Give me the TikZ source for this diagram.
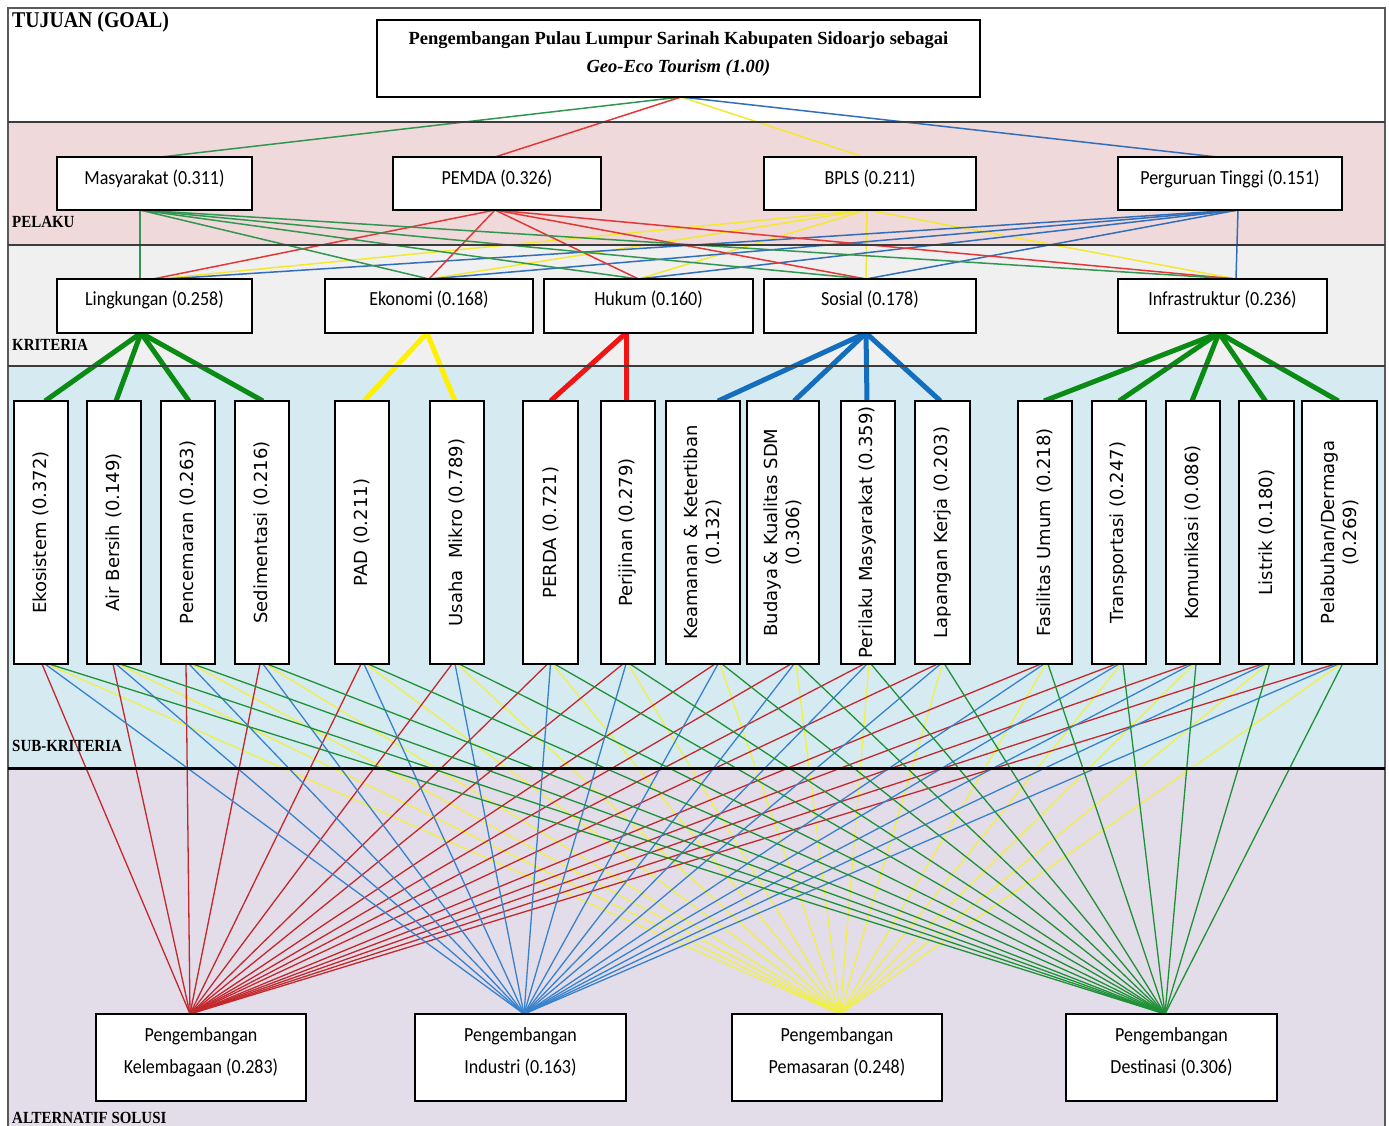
\documentclass[tikz,border=0pt]{standalone}
\usepackage{fontspec}
\usepackage{graphicx}
\setmainfont{Liberation Serif}
\newfontfamily\calib{Carlito}
\newfontfamily\dejav{DejaVu Sans}

\definecolor{bpink}{RGB}{239,217,218}
\definecolor{bgray}{RGB}{241,240,240}
\definecolor{bblue}{RGB}{214,234,241}
\definecolor{blav}{RGB}{227,220,233}
\definecolor{sepgray}{RGB}{60,60,60}
\definecolor{framegray}{RGB}{90,90,90}
\definecolor{ugreen}{RGB}{50,150,80}
\definecolor{ured}{RGB}{228,55,55}
\definecolor{uyellow}{RGB}{242,232,50}
\definecolor{ublue}{RGB}{50,110,185}
\definecolor{tgreen}{RGB}{10,140,20}
\definecolor{tyellow}{RGB}{255,240,0}
\definecolor{tred}{RGB}{240,20,20}
\definecolor{tblue}{RGB}{20,110,190}
\definecolor{lred}{RGB}{195,40,45}
\definecolor{lblue}{RGB}{55,130,205}
\definecolor{lyellow}{RGB}{240,240,70}
\definecolor{lgreen}{RGB}{30,145,55}

\newcommand\sqz[1]{\scalebox{0.9}[1]{#1}}

\pgfdeclarelayer{bands}
\pgfdeclarelayer{lines}
\pgfsetlayers{bands,lines,main}

\tikzset{
  bx/.style={draw=black, line width=2.5pt, fill=white, inner sep=0pt, outer sep=0pt},
  ptext/.style={font=\calib\fontsize{20}{23}\selectfont, inner sep=0pt},
  atext/.style={font=\calib\fontsize{20}{32}\selectfont, inner sep=0pt},
  stext/.style={font=\dejav\fontsize{18}{22}\selectfont, rotate=90, align=center, inner sep=0pt},
  lbl/.style={font=\bfseries\fontsize{17}{20}\selectfont, anchor=base west, inner sep=0pt},
  thinup/.style={line width=1.5pt},
  thickln/.style={line width=5pt},
  thinlow/.style={line width=1.3pt},
  sepl/.style={draw=sepgray, line width=1.6pt},
}

\begin{document}
\begin{tikzpicture}[x=1pt,y=-1pt]
\useasboundingbox (0,0) rectangle (1389,1125);
\clip (0,0) rectangle (1389,1125);

\begin{pgfonlayer}{bands}
\fill[white] (0,0) rectangle (1389,1125);
\fill[bpink] (8,122) rectangle (1385,245);
\fill[bgray] (8,245) rectangle (1385,366);
\fill[bblue] (8,366) rectangle (1385,768);
\fill[blav] (8,768) rectangle (1385,1130);
\draw[framegray, line width=1.2pt] (8,1130) -- (8,8) -- (1385,8) -- (1385,1130);
\end{pgfonlayer}

% band separators
\draw[sepl] (8,122) -- (1385,122);
\draw[sepl] (8,245) -- (1385,245);
\draw[sepl] (8,366) -- (1385,366);
\draw[black, line width=3pt] (8,768) -- (1385,768);

% goal
\node[bx, minimum width=603pt, minimum height=77pt] (goal) at (678.5,58.5) {};
\node[align=center, inner sep=0pt, font=\bfseries\fontsize{18.5}{28}\selectfont] at ([yshift=4.5pt]goal.center)
  {Pengembangan Pulau Lumpur Sarinah Kabupaten Sidoarjo sebagai\\\textit{Geo-Eco Tourism (1.00)}};

% pelaku
\node[bx, minimum width=195pt, minimum height=53pt] (mas) at (154.5,183.5) {};
\node[bx, minimum width=208pt, minimum height=53pt] (pem) at (497,183.5) {};
\node[bx, minimum width=212pt, minimum height=53pt] (bpl) at (870,183.5) {};
\node[bx, minimum width=224pt, minimum height=53pt] (ptg) at (1230,183.5) {};
\node[ptext] at ([yshift=5pt]mas.center) {\sqz{Masyarakat (0.311)}};
\node[ptext] at ([yshift=5pt]pem.center) {\sqz{PEMDA (0.326)}};
\node[ptext] at ([yshift=5pt]bpl.center) {\sqz{BPLS (0.211)}};
\node[ptext] at ([yshift=5pt]ptg.center) {\sqz{Perguruan Tinggi (0.151)}};

% kriteria
\node[bx, minimum width=195pt, minimum height=54pt] (lin) at (154.5,306) {};
\node[bx, minimum width=208pt, minimum height=54pt] (ekon) at (429,306) {};
\node[bx, minimum width=209pt, minimum height=54pt] (huk) at (648.5,306) {};
\node[bx, minimum width=212pt, minimum height=54pt] (sos) at (870,306) {};
\node[bx, minimum width=209pt, minimum height=54pt] (inf) at (1222.5,306) {};
\node[ptext] at ([yshift=6pt]lin.center) {\sqz{Lingkungan (0.258)}};
\node[ptext] at ([yshift=6pt]ekon.center) {\sqz{Ekonomi (0.168)}};
\node[ptext] at ([yshift=6pt]huk.center) {\sqz{Hukum (0.160)}};
\node[ptext] at ([yshift=6pt]sos.center) {\sqz{Sosial (0.178)}};
\node[ptext] at ([yshift=6pt]inf.center) {\sqz{Infrastruktur (0.236)}};

% sub-kriteria boxes
\foreach \n/\cx/\w/\d in {eko1/41/54/4, air/114/54/2, pen/188/54/1, sed/262/54/1,
  pad/362/54/2, usa/457/54/-2, per/550.5/55/0, pij/628/54/-2,
  kea/703/74/15, bud/783/72/11, pml/868/54/-1, lap/942.5/55/-2,
  fas/1045/54/-1, tra/1119/54/0, kom/1193/54/-1, lis/1266.5/55/-1, pel/1339.5/75/-1} {
  \node[bx, minimum width=\w pt, minimum height=263pt] (\n) at (\cx,532.5) {};
  \coordinate (\n-t) at ([xshift=\d pt]\n.north);
  \coordinate (\n-b) at ([xshift=\d pt]\n.south);
}
\node[stext] at (eko1) {Ekosistem (0.372)};
\node[stext] at (air) {Air Bersih (0.149)};
\node[stext] at (pen) {Pencemaran (0.263)};
\node[stext] at (sed) {Sedimentasi (0.216)};
\node[stext] at (pad) {PAD (0.211)};
\node[stext] at (usa) {Usaha\ \ Mikro (0.789)};
\node[stext] at (per) {PERDA (0.721)};
\node[stext] at (pij) {Perijinan (0.279)};
\node[stext] at (kea) {Keamanan \& Ketertiban\\(0.132)};
\node[stext] at (bud) {Budaya\,\& Kualitas SDM\\(0.306)};
\node[stext] at (pml) {Perilaku Masyarakat (0.359)};
\node[stext] at (lap) {Lapangan Kerja (0.203)};
\node[stext] at (fas) {Fasilitas Umum (0.218)};
\node[stext] at (tra) {Transportasi (0.247)};
\node[stext] at (kom) {Komunikasi (0.086)};
\node[stext] at (lis) {Listrik (0.180)};
\node[stext] at (pel) {Pelabuhan/Dermaga\\(0.269)};

% alternatif
\node[bx, minimum width=210pt, minimum height=87pt] (kel) at (201,1057.5) {};
\node[bx, minimum width=211pt, minimum height=87pt] (ind) at (520.5,1057.5) {};
\node[bx, minimum width=210pt, minimum height=87pt] (pms) at (837,1057.5) {};
\node[bx, minimum width=211pt, minimum height=87pt] (des) at (1171.5,1057.5) {};
\coordinate (kel-t) at ([xshift=-11pt]kel.north);
\coordinate (ind-t) at ([xshift=3.5pt]ind.north);
\coordinate (pms-t) at ([xshift=3pt]pms.north);
\coordinate (des-t) at ([xshift=-6.5pt]des.north);
\node[atext] at ([yshift=6.5pt]kel.center) {\sqz{\begin{tabular}{@{}c@{}}Pengembangan\\Kelembagaan (0.283)\end{tabular}}};
\node[atext] at ([yshift=6.5pt]ind.center) {\sqz{\begin{tabular}{@{}c@{}}Pengembangan\\Industri (0.163)\end{tabular}}};
\node[atext] at ([yshift=6.5pt]pms.center) {\sqz{\begin{tabular}{@{}c@{}}Pengembangan\\Pemasaran (0.248)\end{tabular}}};
\node[atext] at ([yshift=6.5pt]des.center) {\sqz{\begin{tabular}{@{}c@{}}Pengembangan\\Destinasi (0.306)\end{tabular}}};

% labels
\node[lbl] at (12,27) {\fontsize{22.5}{24}\selectfont\scalebox{0.88}[1]{TUJUAN (GOAL)}};
\node[lbl] at (12,227) {\scalebox{0.88}[1]{PELAKU}};
\node[lbl] at (12,350) {\scalebox{0.88}[1]{KRITERIA}};
\node[lbl] at (12,751) {\scalebox{0.88}[1]{SUB-KRITERIA}};
\node[lbl] at (12,1123) {\scalebox{0.88}[1]{ALTERNATIF SOLUSI}};

% connectors
\begin{pgfonlayer}{lines}
\coordinate (goal-b) at ([xshift=2.5pt]goal.south);
\draw[thinup, ugreen] (goal-b) -- ([xshift=6.5pt]mas.north);
\draw[thinup, ured] (goal-b) -- ([xshift=-2pt]pem.north);
\draw[thinup, uyellow] (goal-b) -- ([xshift=-6pt]bpl.north);
\draw[thinup, ublue] (goal-b) -- ([xshift=-13pt]ptg.north);

\coordinate (mas-b) at ([xshift=-14.5pt]mas.south);
\coordinate (pem-b) at ([xshift=-2pt]pem.south);
\coordinate (bpl-b) at ([xshift=-3pt]bpl.south);
\coordinate (ptg-b) at ([xshift=8pt]ptg.south);
\coordinate (ekon-t) at (ekon.north);
\coordinate (huk-t) at ([xshift=-10pt]huk.north);
\coordinate (sos-t) at ([xshift=-4pt]sos.north);
\coordinate (inf-t) at ([xshift=13.5pt]inf.north);

\foreach \p/\c/\o in {bpl/uyellow/2.5, ptg/ublue/10.5, pem/ured/-1.5, mas/ugreen/-14.5} {
  \draw[thinup, \c] (\p-b) -- ([xshift=\o pt]lin.north);
  \draw[thinup, \c] (\p-b) -- (ekon-t);
  \draw[thinup, \c] (\p-b) -- (huk-t);
  \draw[thinup, \c] (\p-b) -- (sos-t);
  \draw[thinup, \c] (\p-b) -- (inf-t);
}

% criteria -> sub-criteria (thick)
\coordinate (lin-b) at ([xshift=-13.5pt]lin.south);
\coordinate (ekon-b) at ([xshift=-2pt]ekon.south);
\coordinate (huk-b) at ([xshift=-22.5pt]huk.south);
\coordinate (sos-b) at ([xshift=-4pt]sos.south);
\coordinate (inf-b) at ([xshift=-3.5pt]inf.south);
\foreach \s in {eko1,air,pen,sed} \draw[thickln, tgreen] (lin-b) -- (\s-t);
\foreach \s in {pad,usa} \draw[thickln, tyellow] (ekon-b) -- (\s-t);
\foreach \s in {per,pij} \draw[thickln, tred] (huk-b) -- (\s-t);
\foreach \s in {kea,bud,pml,lap} \draw[thickln, tblue] (sos-b) -- (\s-t);
\foreach \s in {fas,tra,kom,lis,pel} \draw[thickln, tgreen] (inf-b) -- (\s-t);

% sub-criteria -> alternatives
\foreach \n in {eko1,air,pen,sed,pad,usa,per,pij,kea,bud,pml,lap,fas,tra,kom,lis,pel}
  \draw[thinlow, lyellow] ([xshift=2pt]\n-b) -- (pms-t);
\foreach \n in {eko1,air,pen,sed,pad,usa,per,pij,kea,bud,pml,lap,fas,tra,kom,lis,pel}
  \draw[thinlow, lred] ([xshift=-3pt]\n-b) -- (kel-t);
\foreach \n in {eko1,air,pen,sed,pad,usa,per,pij,kea,bud,pml,lap,fas,tra,kom,lis,pel}
  \draw[thinlow, lblue] (\n-b) -- (ind-t);
\foreach \n in {eko1,air,pen,sed,pad,usa,per,pij,kea,bud,pml,lap,fas,tra,kom,lis,pel}
  \draw[thinlow, lgreen] ([xshift=4pt]\n-b) -- (des-t);
\end{pgfonlayer}
\end{tikzpicture}
\end{document}
